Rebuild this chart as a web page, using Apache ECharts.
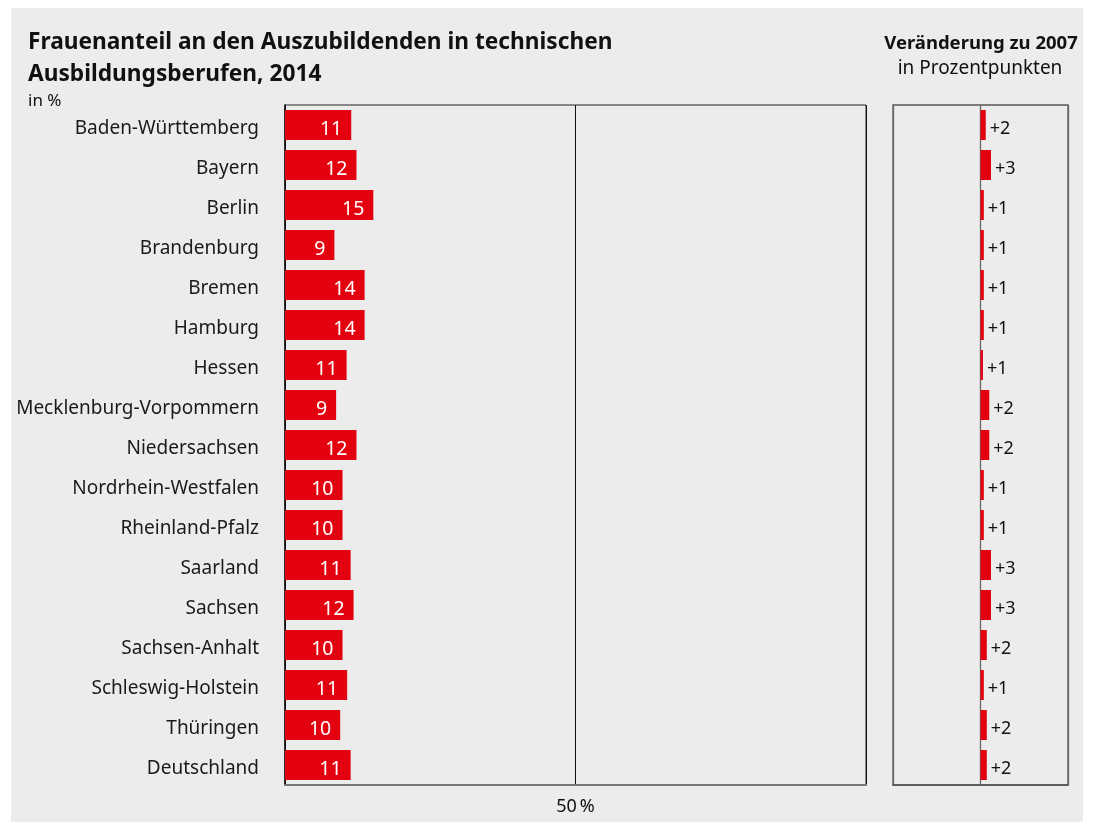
<!DOCTYPE html>
<html>
<head>
<meta charset="utf-8">
<script src="https://cdn.jsdelivr.net/npm/echarts@6/dist/echarts.min.js"></script>
<style>
  html, body { margin: 0; padding: 0; background: #fff; }
  #chart { position: absolute; left: 11px; top: 8px; width: 1072px; height: 814px; background: #ececec; }
</style>
</head>
<body>
<div id="chart"></div>
<script>
// Bundesländer, von oben nach unten
const laender = [
  'Baden-Württemberg', 'Bayern', 'Berlin', 'Brandenburg', 'Bremen', 'Hamburg',
  'Hessen', 'Mecklenburg-Vorpommern', 'Niedersachsen', 'Nordrhein-Westfalen',
  'Rheinland-Pfalz', 'Saarland', 'Sachsen', 'Sachsen-Anhalt', 'Schleswig-Holstein',
  'Thüringen', 'Deutschland'
]
// Frauenanteil 2014 in %
const anteil = [11.4, 12.3, 15.2, 8.5, 13.7, 13.7, 10.6, 8.8, 12.3, 9.9, 9.9, 11.3, 11.8, 9.9, 10.7, 9.5, 11.3]
const anteilLabels = ['11', '12', '15', '9', '14', '14', '11', '9', '12', '10', '10', '11', '12', '10', '11', '10', '11']
// Veränderung zu 2007 in Prozentpunkten
const veraenderung = [1.5, 3.0, 0.95, 0.95, 0.95, 0.95, 0.7, 2.5, 2.5, 0.95, 0.95, 3.0, 3.0, 1.8, 0.95, 1.8, 1.8]
const veraenderungLabels = ['+2', '+3', '+1', '+1', '+1', '+1', '+1', '+2', '+2', '+1', '+1', '+3', '+3', '+2', '+1', '+2', '+2']

const FONT = 'Noto Sans'
const RED = '#e3000f'
const OX = 11, OY = 8 // Versatz des grauen Feldes

const chart = echarts.init(document.getElementById('chart'))

chart.setOption({
  animation: false,
  textStyle: { fontFamily: FONT },
  graphic: [
    {
      type: 'text', left: 28 - OX, top: 27 - OY,
      style: {
        text: 'Frauenanteil an den Auszubildenden in technischen\nAusbildungsberufen, 2014',
        font: 'bold 22.7px "Noto Sans"', fill: '#111', lineHeight: 32
      }
    },
    {
      type: 'text', left: 28 - OX, top: 93 - OY,
      style: { text: 'in %', font: '17px "Noto Sans"', fill: '#111' }
    },
    {
      type: 'text', x: 981 - OX, y: 34 - OY,
      style: {
        text: 'Veränderung zu 2007', font: 'bold 18.5px "Noto Sans"', fill: '#111', align: 'center'
      }
    },
    {
      type: 'text', x: 980 - OX, y: 59 - OY,
      style: {
        text: 'in Prozentpunkten', font: '19px "Noto Sans"', fill: '#111', align: 'center'
      }
    }
  ],
  grid: [
    { left: 285 - OX, top: 105 - OY, width: 581, height: 680, show: true, borderColor: '#222', borderWidth: 1 },
    { left: 893 - OX, top: 105 - OY, width: 175, height: 680, show: true, borderColor: '#555', borderWidth: 1.3 }
  ],
  xAxis: [
    {
      gridIndex: 0, type: 'value', min: 0, max: 100, interval: 50,
      axisLine: { show: true, lineStyle: { color: '#777', width: 2 } },
      axisTick: { show: false },
      splitLine: { show: true, lineStyle: { color: '#111', width: 1 } },
      axisLabel: {
        margin: 13, fontSize: 18, color: '#111', fontFamily: FONT,
        formatter: v => (v === 50 ? '50\u2009%' : '')
      }
    },
    {
      gridIndex: 1, type: 'value', min: -25, max: 25, interval: 25,
      axisLine: { show: true, lineStyle: { color: '#555', width: 1.5 } },
      axisTick: { show: false },
      splitLine: { show: true, lineStyle: { color: '#666', width: 1.3 } },
      axisLabel: { show: false }
    }
  ],
  yAxis: [
    {
      gridIndex: 0, type: 'category', data: laender, inverse: true,
      axisLine: { show: true, lineStyle: { color: '#111', width: 1.5 } },
      axisTick: { show: false },
      axisLabel: {
        margin: 26, fontSize: 19, color: '#1a1a1a', fontFamily: FONT,
        verticalAlign: 'top', lineHeight: 8
      }
    },
    {
      gridIndex: 1, type: 'category', data: laender, inverse: true,
      axisLine: { show: false }, axisTick: { show: false }, axisLabel: { show: false }
    }
  ],
  series: [
    {
      type: 'bar', xAxisIndex: 0, yAxisIndex: 0, data: anteil,
      barCategoryGap: '25%',
      itemStyle: { color: RED },
      label: {
        show: true, position: 'insideRight', distance: 9,
        color: '#fff', fontSize: 19.5, fontFamily: FONT,
        verticalAlign: 'top', lineHeight: 8,
        formatter: p => anteilLabels[p.dataIndex]
      }
    },
    {
      type: 'bar', xAxisIndex: 1, yAxisIndex: 1, data: veraenderung,
      barCategoryGap: '25%',
      itemStyle: { color: RED },
      label: {
        show: true, position: 'right', distance: 4,
        color: '#111', fontSize: 18, fontFamily: FONT,
        verticalAlign: 'top', lineHeight: 8,
        formatter: p => veraenderungLabels[p.dataIndex]
      }
    }
  ]
})
</script>
</body>
</html>
